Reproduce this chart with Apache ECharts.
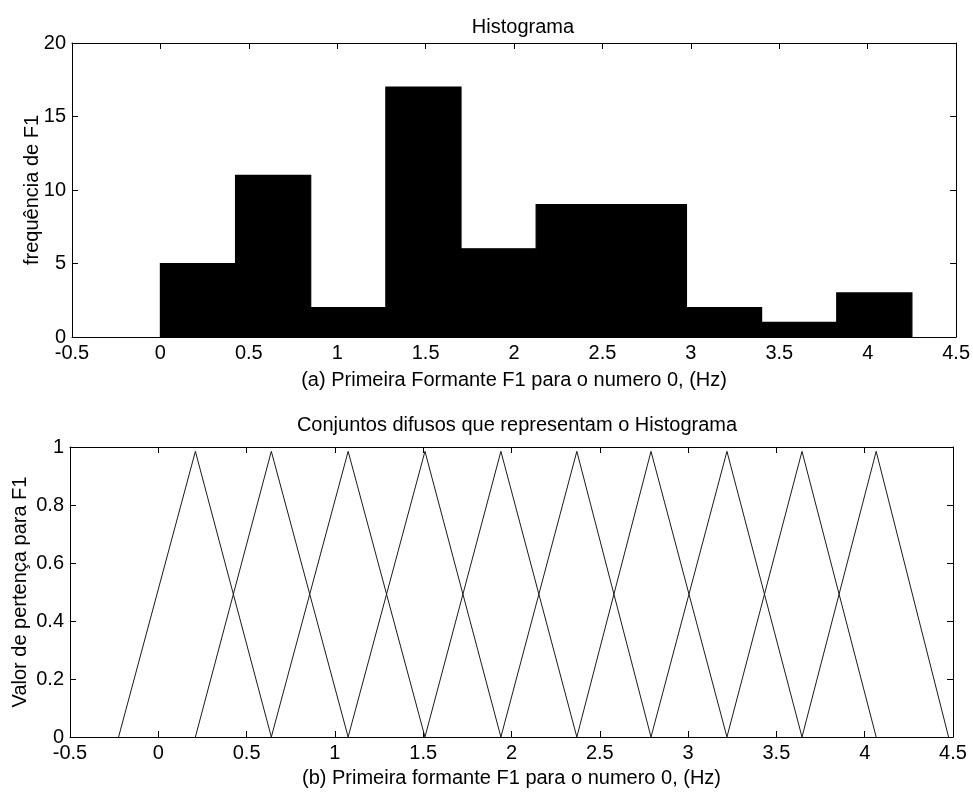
<!DOCTYPE html>
<html>
<head>
<meta charset="utf-8">
<title>Histograma</title>
<script src="https://cdn.jsdelivr.net/npm/echarts@6/dist/echarts.min.js"></script>
<style>
  html, body { margin: 0; padding: 0; background: #fff; }
  #chart { width: 973px; height: 793px; }
</style>
</head>
<body>
<div id="chart"></div>
<script>
// Histogram of the first formant F1 (digit 0)
const binEdges = [0, 0.425, 0.85, 1.275, 1.7, 2.125, 2.55, 2.975, 3.4, 3.825, 4.25];
const binCounts = [5, 11, 2, 17, 6, 9, 9, 2, 1, 3];

// Fuzzy sets: triangle i spans knots i .. i+2, peaking at knot i+1
const fuzzyKnots = [-0.225, 0.21, 0.64, 1.075, 1.51, 1.94, 2.37, 2.79, 3.22, 3.645, 4.065, 4.475];
const peakHeight = 0.985;

// Axis ticks
const xTicks = [-0.5, 0, 0.5, 1, 1.5, 2, 2.5, 3, 3.5, 4, 4.5];
const histYTicks = [0, 5, 10, 15, 20];
const memberYTicks = [0, 0.2, 0.4, 0.6, 0.8, 1];

const FONT = '"Liberation Sans", Arial, sans-serif';
const INK = '#000';
const FS = 20;

const chart = echarts.init(document.getElementById('chart'), null, { renderer: 'canvas' });

function boxAxis(type, gridIndex, position, extent, interval, showLabels, extra) {
  return Object.assign({
    type: 'value',
    gridIndex: gridIndex,
    position: position,
    min: extent[0],
    max: extent[extent.length - 1],
    interval: interval,
    splitLine: { show: false },
    axisLine: { show: true, onZero: false, lineStyle: { color: INK, width: 1 } },
    axisTick: { show: true, inside: true, length: 6, lineStyle: { color: INK, width: 1 } },
    axisLabel: {
      show: showLabels,
      color: INK,
      fontFamily: FONT,
      fontSize: FS,
      margin: 6
    }
  }, extra || {});
}

const nameStyle = { color: INK, fontFamily: FONT, fontSize: FS };

const histData = binCounts.map((c, i) => [binEdges[i], binEdges[i + 1], c]);

const fuzzySeries = [];
for (let i = 0; i + 2 < fuzzyKnots.length; i++) {
  fuzzySeries.push({
    type: 'line',
    xAxisIndex: 2,
    yAxisIndex: 2,
    symbol: 'none',
    silent: true,
    lineStyle: { color: '#1a1a1a', width: 1 },
    data: [[fuzzyKnots[i], 0], [fuzzyKnots[i + 1], peakHeight], [fuzzyKnots[i + 2], 0]]
  });
}

chart.setOption({
  animation: false,
  backgroundColor: '#fff',
  title: [
    { text: 'Histograma', left: 518, top: 12, textAlign: 'center',
      textStyle: { color: INK, fontFamily: FONT, fontSize: FS, fontWeight: 'normal' } },
    { text: 'Conjuntos difusos que representam o Histograma', left: 512, top: 410, textAlign: 'center',
      textStyle: { color: INK, fontFamily: FONT, fontSize: FS, fontWeight: 'normal' } }
  ],
  grid: [
    { left: 72, top: 43, width: 887, height: 294 },
    { left: 70, top: 447, width: 883, height: 290 }
  ],
  xAxis: [
    boxAxis('x', 0, 'bottom', xTicks, 0.5, true, {
      name: '(a) Primeira Formante F1 para o numero 0, (Hz)',
      nameLocation: 'middle', nameGap: 33, nameMoveOverlap: false, nameTextStyle: nameStyle
    }),
    boxAxis('x', 0, 'top', xTicks, 0.5, false),
    boxAxis('x', 1, 'bottom', xTicks, 0.5, true, {
      name: '(b) Primeira formante F1 para o numero 0, (Hz)',
      nameLocation: 'middle', nameGap: 31, nameMoveOverlap: false, nameTextStyle: nameStyle
    }),
    boxAxis('x', 1, 'top', xTicks, 0.5, false)
  ],
  yAxis: [
    boxAxis('y', 0, 'left', histYTicks, 5, true, {
      name: 'frequência de F1',
      nameLocation: 'middle', nameGap: 30, nameMoveOverlap: false, nameTextStyle: nameStyle
    }),
    boxAxis('y', 0, 'right', histYTicks, 5, false),
    boxAxis('y', 1, 'left', memberYTicks, 0.2, true, {
      name: 'Valor de pertença para F1',
      nameLocation: 'middle', nameGap: 40, nameMoveOverlap: false, nameTextStyle: nameStyle
    }),
    boxAxis('y', 1, 'right', memberYTicks, 0.2, false)
  ],
  series: [
    {
      type: 'custom',
      xAxisIndex: 0,
      yAxisIndex: 0,
      silent: true,
      data: histData,
      encode: { x: [0, 1], y: 2 },
      renderItem: function (params, api) {
        const p0 = api.coord([api.value(0), api.value(2)]);
        const p1 = api.coord([api.value(1), 0]);
        return {
          type: 'rect',
          shape: { x: p0[0], y: p0[1], width: p1[0] - p0[0], height: p1[1] - p0[1] },
          style: { fill: '#000', stroke: '#000', lineWidth: 1.2 }
        };
      }
    }
  ].concat(fuzzySeries)
});
</script>
</body>
</html>
